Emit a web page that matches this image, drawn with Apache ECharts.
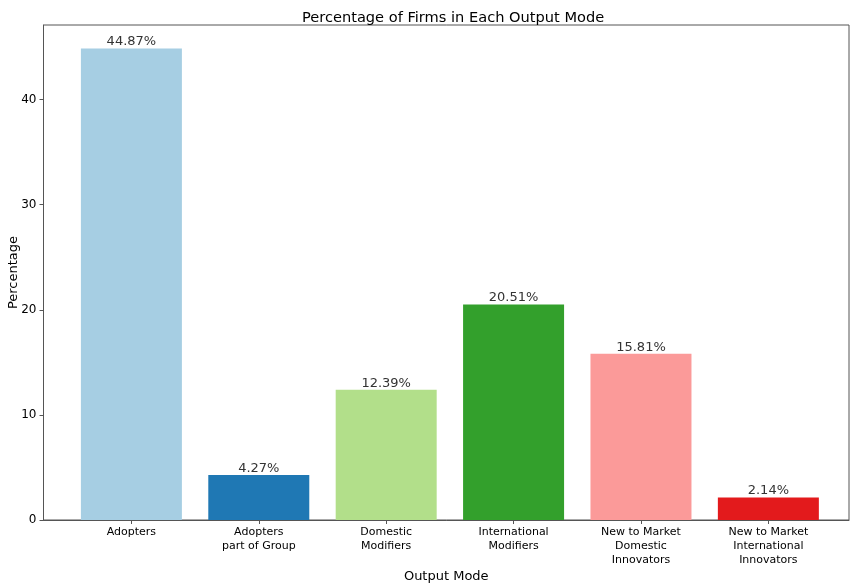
<!DOCTYPE html>
<html>
<head>
<meta charset="utf-8">
<script src="https://cdn.jsdelivr.net/npm/echarts@6/dist/echarts.min.js"></script>
<style>
  html, body { margin: 0; padding: 0; background: #fff; }
  #chart { width: 850px; height: 583px; }
</style>
</head>
<body>
<div id="chart"></div>
<script>
// output modes and share of firms (%)
const categories = [
  'Adopters',
  'Adopters\npart of Group',
  'Domestic\nModifiers',
  'International\nModifiers',
  'New to Market\nDomestic\nInnovators',
  'New to Market\nInternational\nInnovators'
];
const percentages = [44.87, 4.27, 12.39, 20.51, 15.81, 2.14];
const barColors = ['#a6cee3', '#1f78b4', '#b2df8a', '#33a02c', '#fb9a99', '#e31a1c'];
const yTicks = [0, 10, 20, 30, 40];

const font = 'DejaVu Sans';
const chart = echarts.init(document.getElementById('chart'));

const positions = categories.map((c, i) => i);

chart.setOption({
  animation: false,
  title: {
    text: 'Percentage of Firms in Each Output Mode',
    left: 297,
    top: 6,
    textStyle: { fontFamily: font, fontSize: 14.6, fontWeight: 'normal', color: '#000' }
  },
  grid: {
    left: 43.5, right: 1, top: 25, bottom: 63,
    outerBoundsMode: 'none',
    containLabel: false,
    show: true, borderColor: '#555', borderWidth: 1
  },
  xAxis: {
    type: 'value',
    min: -0.69,
    max: 5.633,
    name: 'Output Mode',
    nameLocation: 'middle',
    nameGap: 50,
    nameMoveOverlap: false,
    nameTextStyle: { fontFamily: font, fontSize: 13, color: '#000' },
    axisLine: { show: true, onZero: false, lineStyle: { color: '#555' } },
    splitLine: { show: false },
    axisTick: { show: true, customValues: positions, length: 4, lineStyle: { color: '#555' } },
    axisLabel: {
      customValues: positions,
      formatter: v => categories[Math.round(v)],
      fontFamily: font, fontSize: 11, color: '#000', lineHeight: 14, margin: 5
    }
  },
  yAxis: {
    type: 'value',
    min: 0,
    max: 47.1,
    name: 'Percentage',
    nameLocation: 'middle',
    nameGap: 23,
    nameMoveOverlap: false,
    nameTextStyle: { fontFamily: font, fontSize: 13, color: '#000' },
    axisLine: { show: true, onZero: false, lineStyle: { color: '#555' } },
    splitLine: { show: false },
    axisTick: { show: true, customValues: yTicks, length: 4, lineStyle: { color: '#555' } },
    axisLabel: { customValues: yTicks, fontFamily: font, fontSize: 12, color: '#000', margin: 7 }
  },
  series: [{
    type: 'bar',
    barWidth: 101,
    data: percentages.map((v, i) => ({
      value: [i, v],
      itemStyle: { color: barColors[i] }
    })),
    label: {
      show: true,
      position: 'top',
      distance: 0,
      formatter: p => p.value[1].toFixed(2) + '%',
      fontFamily: font, fontSize: 13, color: '#333'
    }
  }]
});
</script>
</body>
</html>
